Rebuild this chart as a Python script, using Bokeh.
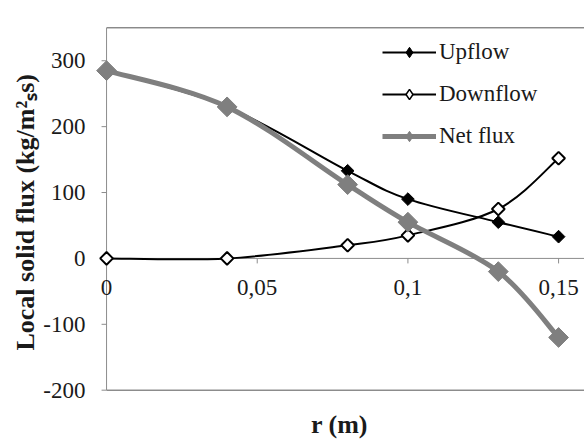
import math
from bokeh.plotting import figure
from bokeh.models import (Range1d, FixedTicker, Legend, LegendItem,
                          ColumnDataSource, Label)
from bokeh.embed import file_html
from bokeh.resources import INLINE

# ---- data ----
r = [0, 0.04, 0.08, 0.1, 0.13, 0.15]
upflow = [285, 230, 133, 90, 55, 33]
downflow = [0, 0, 20, 35, 75, 152]
net_flux = [285, 230, 112, 55, -20, -120]

x_ticks = [0, 0.05, 0.1, 0.15]
x_tick_labels = ["0", "0,05", "0,1", "0,15"]
y_ticks = [-200, -100, 0, 100, 200, 300]
y_tick_labels = ["-200", "-100", "0", "100", "200", "300"]
Y_MIN, Y_MAX = -200, 350          # axis limits of the reference chart
X_MAX = 0.1586

FONT = "Liberation Serif, Times New Roman, serif"
TICK_FS = "23px"
LABEL_FS = "26px"
TXT = "#1a1a1a"
AX_GRAY = "#8c8c8c"
FRAME_GRAY = "#555555"
NET_GRAY = "#7f7f7f"


def smooth_source(xs, ys):
    """Cubic Bezier pieces (Catmull-Rom style, like spreadsheet smoothed lines)."""
    n = len(xs)
    d = dict(x0=[], y0=[], x1=[], y1=[], cx0=[], cy0=[], cx1=[], cy1=[])
    for i in range(n - 1):
        ip = max(i - 1, 0)
        inx = min(i + 2, n - 1)
        d["x0"].append(xs[i]); d["y0"].append(ys[i])
        d["x1"].append(xs[i + 1]); d["y1"].append(ys[i + 1])
        d["cx0"].append(xs[i] + (xs[i + 1] - xs[ip]) / 6)
        d["cy0"].append(ys[i] + (ys[i + 1] - ys[ip]) / 6)
        d["cx1"].append(xs[i + 1] - (xs[inx] - xs[i]) / 6)
        d["cy1"].append(ys[i + 1] - (ys[inx] - ys[i]) / 6)
    return ColumnDataSource(d)


p = figure(width=584, height=444, output_backend="svg", toolbar_location=None,
           x_range=Range1d(-0.004, X_MAX), y_range=Range1d(Y_MIN - 2, Y_MAX + 2),
           min_border_left=94, min_border_right=0, min_border_top=26,
           min_border_bottom=53)
p.outline_line_color = None
p.grid.visible = False
p.background_fill_color = "white"
p.border_fill_color = "white"

# y axis: labels and title only; its line and ticks are drawn at x = 0
yax = p.yaxis[0]
yax.ticker = FixedTicker(ticks=y_ticks)
yax.major_label_overrides = {t: s for t, s in zip(y_ticks, y_tick_labels)}
yax.major_tick_in = 0
yax.major_tick_out = 0
yax.major_tick_line_color = None
yax.minor_tick_line_color = None
yax.axis_line_color = None
yax.major_label_text_font = FONT
yax.major_label_text_font_size = TICK_FS
yax.major_label_text_color = TXT
yax.major_label_standoff = 9
yax.axis_label = "Local solid flux  (kg/m²ₛs)"
yax.axis_label_text_font = FONT
yax.axis_label_text_font_style = "bold"
yax.axis_label_text_font_size = LABEL_FS
yax.axis_label_text_color = TXT
yax.axis_label_standoff = 0

# bottom axis: only the axis title
xax = p.xaxis[0]
xax.ticker = FixedTicker(ticks=[])
xax.axis_line_color = None
xax.axis_label = "r (m)"
xax.axis_label_text_font = FONT
xax.axis_label_text_font_style = "bold"
xax.axis_label_text_font_size = LABEL_FS
xax.axis_label_text_color = TXT
xax.axis_label_standoff = 18

# plot-area frame (top, bottom) and the y axis line at x = 0
p.segment(x0=[0, 0], x1=[X_MAX, X_MAX], y0=[Y_MIN, Y_MAX], y1=[Y_MIN, Y_MAX],
          line_color=FRAME_GRAY, line_width=1)
p.segment(x0=[0], x1=[0], y0=[Y_MIN], y1=[Y_MAX], line_color=AX_GRAY, line_width=1)
p.ray(x=[0] * len(y_ticks), y=y_ticks, length=5, length_units="screen",
      angle=math.pi, line_color=AX_GRAY, line_width=1)

# zero line acting as the x axis, with its tick marks and labels
p.segment(x0=[0], x1=[X_MAX], y0=[0], y1=[0], line_color=AX_GRAY, line_width=1)
p.ray(x=x_ticks[1:], y=[0] * (len(x_ticks) - 1), length=5, length_units="screen",
      angle=-math.pi / 2, line_color=AX_GRAY, line_width=1)
for xt, lab in zip(x_ticks, x_tick_labels):
    p.add_layout(Label(x=xt, y=0, text=lab, text_font=FONT,
                       text_font_size=TICK_FS, text_color=TXT,
                       text_align="center", text_baseline="middle", y_offset=-29))

# series
up_line = p.bezier(x0="x0", y0="y0", x1="x1", y1="y1", cx0="cx0", cy0="cy0",
                   cx1="cx1", cy1="cy1", source=smooth_source(r, upflow),
                   line_color="black", line_width=2)
up_pts = p.scatter(r, upflow, marker="square", angle=math.pi / 4, size=9,
                   fill_color="black", line_color="black", line_width=1)

down_line = p.bezier(x0="x0", y0="y0", x1="x1", y1="y1", cx0="cx0", cy0="cy0",
                     cx1="cx1", cy1="cy1", source=smooth_source(r, downflow),
                     line_color="black", line_width=2)
down_pts = p.scatter(r, downflow, marker="square", angle=math.pi / 4, size=9,
                     fill_color="white", line_color="black", line_width=2)

net_line = p.bezier(x0="x0", y0="y0", x1="x1", y1="y1", cx0="cx0", cy0="cy0",
                    cx1="cx1", cy1="cy1", source=smooth_source(r, net_flux),
                    line_color=NET_GRAY, line_width=5)
net_pts = p.scatter(r, net_flux, marker="square", angle=math.pi / 4, size=14,
                    fill_color=NET_GRAY, line_color=NET_GRAY, line_width=1)

# legend-only marker proxies (one undrawn NaN point each)
nan = float("nan")
leg_up = p.scatter(x=[r[0]], y=[nan], marker="diamond", fill_color="black",
                   line_color="black", line_width=1)
leg_down = p.scatter(x=[r[0]], y=[nan], marker="diamond", fill_color="white",
                     line_color="black", line_width=1.5)
leg_net = p.scatter(x=[r[0]], y=[nan], marker="diamond", fill_color=NET_GRAY,
                    line_color=NET_GRAY, line_width=1)

legend = Legend(items=[
    LegendItem(label="Upflow", renderers=[up_line, leg_up]),
    LegendItem(label="Downflow", renderers=[down_line, leg_down]),
    LegendItem(label="Net flux", renderers=[net_line, leg_net]),
], location=(288, 242), border_line_color=None, background_fill_alpha=0,
    padding=0, margin=0, spacing=16, glyph_width=54, glyph_height=26,
    label_height=26, label_standoff=3, label_text_font=FONT,
    label_text_font_size=TICK_FS, label_text_color=TXT)
p.add_layout(legend)

open("out.html", "w").write(file_html(p, INLINE))
